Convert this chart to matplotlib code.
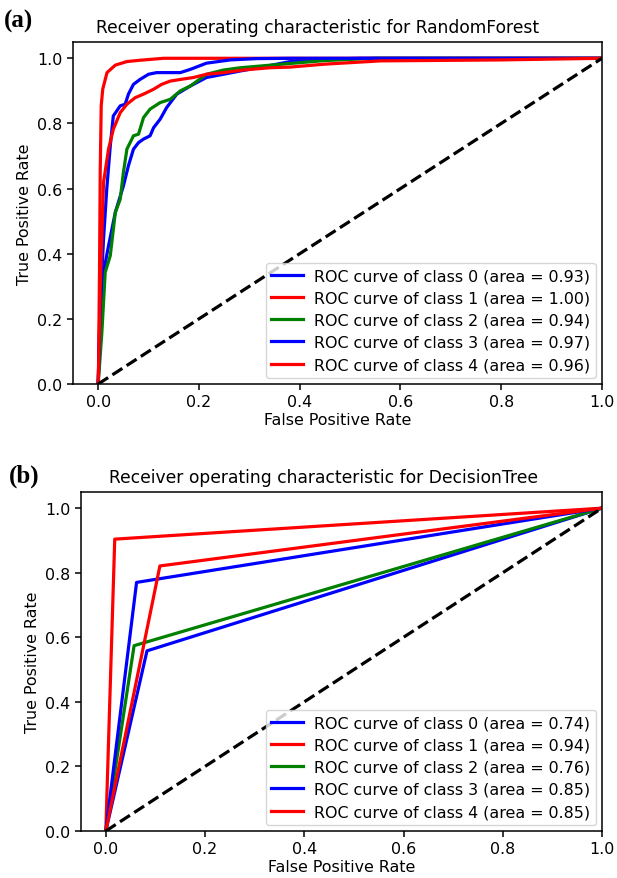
import matplotlib
matplotlib.use("Agg")
import matplotlib.pyplot as plt

# ---- Data: RandomForest ROC curves ----
rf_labels = ["ROC curve of class 0 (area = 0.93)",
             "ROC curve of class 1 (area = 1.00)",
             "ROC curve of class 2 (area = 0.94)",
             "ROC curve of class 3 (area = 0.97)",
             "ROC curve of class 4 (area = 0.96)"]
colors = ["blue", "red", "green", "blue", "red"]

rf0_fpr = [0.0, 0.004, 0.0106, 0.0205, 0.034, 0.050, 0.060, 0.070, 0.080, 0.090, 0.103, 0.110,
           0.123, 0.136, 0.156, 0.183, 0.215, 0.249, 0.282, 0.335, 0.381, 0.45, 0.52, 1.0]
rf0_tpr = [0.0, 0.169, 0.343, 0.424, 0.527, 0.608, 0.670, 0.721, 0.741, 0.752, 0.762, 0.787,
           0.813, 0.849, 0.890, 0.915, 0.941, 0.951, 0.961, 0.976, 0.990, 0.997, 1.0, 1.0]

rf1_fpr = [0.0, 0.0007, 0.0026, 0.004, 0.006, 0.009, 0.0175, 0.034, 0.057, 0.083, 0.13, 1.0]
rf1_tpr = [0.0, 0.05, 0.343, 0.65, 0.854, 0.905, 0.956, 0.979, 0.990, 0.994, 1.0, 1.0]

rf2_fpr = [0.0, 0.0073, 0.0139, 0.024, 0.034, 0.0437, 0.050, 0.057, 0.070, 0.080, 0.090, 0.103,
           0.123, 0.143, 0.163, 0.183, 0.215, 0.249, 0.282, 0.335, 0.381, 0.45, 0.55, 1.0]
rf2_tpr = [0.0, 0.158, 0.343, 0.394, 0.527, 0.567, 0.649, 0.721, 0.762, 0.767, 0.818, 0.844,
           0.864, 0.874, 0.900, 0.915, 0.951, 0.964, 0.971, 0.978, 0.984, 0.993, 1.0, 1.0]

rf3_fpr = [0.0, 0.004, 0.0106, 0.017, 0.024, 0.030, 0.0437, 0.0536, 0.060, 0.070, 0.083, 0.100,
           0.116, 0.163, 0.183, 0.215, 0.262, 0.315, 0.381, 1.0]
rf3_tpr = [0.0, 0.240, 0.445, 0.598, 0.731, 0.823, 0.854, 0.859, 0.890, 0.920, 0.935, 0.951,
           0.956, 0.956, 0.966, 0.985, 0.995, 0.999, 1.0, 1.0]

rf4_fpr = [0.0, 0.004, 0.0106, 0.0205, 0.030, 0.0437, 0.057, 0.0734, 0.090, 0.110, 0.126, 0.143,
           0.163, 0.189, 0.215, 0.249, 0.288, 0.341, 0.381, 0.45, 0.56, 0.8, 1.0]
rf4_tpr = [0.0, 0.291, 0.619, 0.721, 0.782, 0.833, 0.859, 0.879, 0.890, 0.905, 0.920, 0.930,
           0.935, 0.941, 0.951, 0.956, 0.964, 0.971, 0.973, 0.982, 0.992, 0.995, 1.0]

rf_fpr = [rf0_fpr, rf1_fpr, rf2_fpr, rf3_fpr, rf4_fpr]
rf_tpr = [rf0_tpr, rf1_tpr, rf2_tpr, rf3_tpr, rf4_tpr]

# ---- Data: DecisionTree ROC curves ----
dt_labels = ["ROC curve of class 0 (area = 0.74)",
             "ROC curve of class 1 (area = 0.94)",
             "ROC curve of class 2 (area = 0.76)",
             "ROC curve of class 3 (area = 0.85)",
             "ROC curve of class 4 (area = 0.85)"]
dt_fpr = [[0.0, 0.083, 1.0],
          [0.0, 0.018, 1.0],
          [0.0, 0.057, 1.0],
          [0.0, 0.062, 1.0],
          [0.0, 0.109, 1.0]]
dt_tpr = [[0.0, 0.558, 1.0],
          [0.0, 0.904, 1.0],
          [0.0, 0.574, 1.0],
          [0.0, 0.770, 1.0],
          [0.0, 0.821, 1.0]]

W, H = 617, 879
fig = plt.figure(figsize=(W / 100, H / 100), dpi=100)

def px_axes(left, top, right, bottom):
    return fig.add_axes([left / W, 1 - bottom / H, (right - left) / W, (bottom - top) / H])

ax1 = px_axes(73, 43, 602, 385)
ax2 = px_axes(81, 493, 602, 832)

FS = 11.4

def draw(ax, fprs, tprs, labels, title, tx):
    for f, t, c, lab in zip(fprs, tprs, colors, labels):
        ax.plot(f, t, color=c, lw=2.3, label=lab)
    ax.plot([0, 1], [0, 1], "k--", lw=2.3)
    ax.set_xlim(-0.05, 1.0)
    ax.set_ylim(0.0, 1.05)
    ax.set_xlabel("False Positive Rate", fontsize=FS, labelpad=2)
    ax.set_ylabel("True Positive Rate", fontsize=FS, labelpad=4)
    ax.set_title(title, fontsize=12.3, pad=7, x=tx)
    ax.tick_params(labelsize=FS, width=1.1, length=4)
    for s in ax.spines.values():
        s.set_linewidth(1.1)
    ax.legend(loc="lower right", fontsize=FS, borderaxespad=0.4, labelspacing=0.45,
              handletextpad=0.7, borderpad=0.35)

draw(ax1, rf_fpr, rf_tpr, rf_labels, "Receiver operating characteristic for RandomForest", 0.462)
draw(ax2, dt_fpr, dt_tpr, dt_labels, "Receiver operating characteristic for DecisionTree", 0.466)

fig.text(4 / W, 1 - 28 / H, "(a)", family="Liberation Serif", weight="bold", fontsize=18)
fig.text(9 / W, 1 - 483 / H, "(b)", family="Liberation Serif", weight="bold", fontsize=18)

fig.savefig("out.png", dpi=100)
